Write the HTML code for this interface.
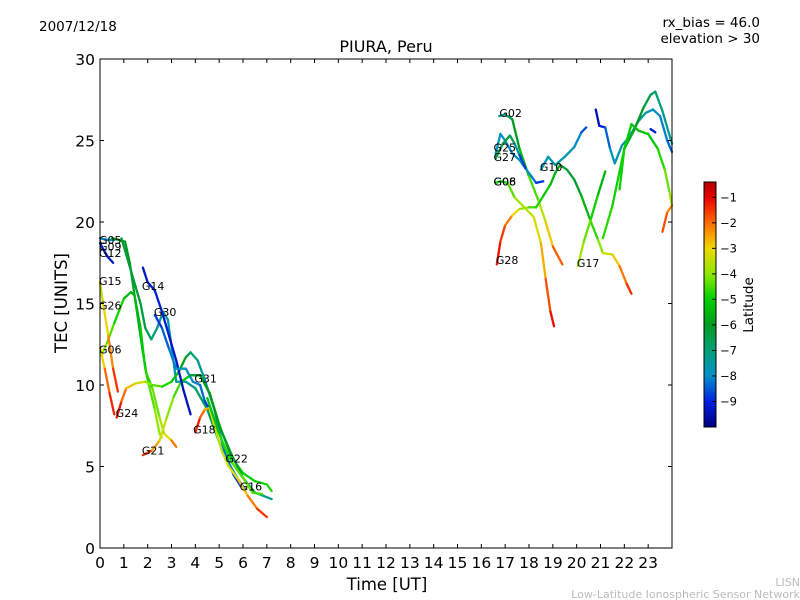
<!DOCTYPE html>
<html><head><meta charset="utf-8"><style>
body{margin:0;background:#fff;}
svg{display:block;font-family:"DejaVu Sans","Liberation Sans",sans-serif;}
</style></head><body>
<svg id="chart" width="800" height="600">
<defs>
<linearGradient id="jet" x1="0" y1="1" x2="0" y2="0"></linearGradient>
</defs>
<rect x="0" y="0" width="800" height="600" fill="#fff"/>
<text x="39" y="31" font-size="13.5">2007/12/18</text>
<text x="760" y="27" font-size="13.5" text-anchor="end">rx_bias = 46.0</text>
<text x="760" y="43" font-size="13.5" text-anchor="end">elevation &gt; 30</text>
<text x="386" y="52" font-size="16" text-anchor="middle">PIURA, Peru</text>
<text x="387" y="590" font-size="16.5" text-anchor="middle">Time [UT]</text>
<text transform="translate(67,303) rotate(-90)" font-size="16.5" text-anchor="middle">TEC [UNITS]</text>
<text x="800" y="586" font-size="11" fill="#bbb" text-anchor="end">LISN</text>
<text x="800" y="598" font-size="11" fill="#bbb" text-anchor="end">Low-Latitude Ionospheric Sensor Network</text>
<g id="marks"></g>
<g id="axes"></g>
<rect x="100" y="59" width="572" height="489" fill="none" stroke="#000" stroke-width="1"/>
<g>
<rect x="704" y="182" width="12" height="245" fill="url(#jet)" stroke="#000" stroke-width="1"/>
<g id="cbticks"></g>
<text transform="translate(753,305) rotate(-90)" font-size="13.5" text-anchor="middle">Latitude</text>
</g>
</svg>
<script>
const xTicks=[0,1,2,3,4,5,6,7,8,9,10,11,12,13,14,15,16,17,18,19,20,21,22,23];
const yTicks=[0,5,10,15,20,25,30];
const cbTicks=[-1,-2,-3,-4,-5,-6,-7,-8,-9];
const satNames=["G12","G09","G05","G30b","G26","G15","G06","G24","G21","G14","G30","G31","G18","G22","G02","G25","G27","G08","G28","G10","G17","R8","R9","R10","R11","R12"];
const tracks=[
[[0,18.7,-9],[0.3,17.9,-9.2],[0.55,17.5,-9.3]],
[[0,19.0,-8],[0.3,18.9,-8.2],[0.6,18.9,-7.5]],
[[0.5,19.0,-6],[1.05,18.8,-6],[1.25,17.5,-6],[1.5,15,-5.8],[1.8,12,-5.5],[1.95,10.7,-5],[2.2,9.8,-4.5],[2.5,8,-4],[2.7,7,-3.5],[3.0,6.6,-2.8],[3.2,6.2,-1.5]],
[[0.9,19.0,-6.3],[1.3,17,-6.3],[1.7,15,-6.3],[1.9,13.5,-6.5],[2.15,12.8,-6.8],[2.4,13.5,-7.2],[2.65,14.5,-7.5],[2.85,14,-7.6],[3.05,11.8,-7.8],[3.2,10.2,-7.6],[3.6,10.2,-7.5],[4.0,9.8,-7],[4.5,8.5,-6.5],[5.0,6.5,-7],[5.4,5.2,-7.5],[5.8,4.2,-8],[6.1,3.6,-8.5]],
[[0.05,11.8,-3.8],[0.3,12.6,-4.2],[0.6,13.8,-4.6],[1.0,15.3,-5.2],[1.3,15.7,-5.5],[1.45,15.5,-5.6],[1.7,13.5,-5.3],[1.9,11,-4.9],[2.05,10,-4.6],[2.3,8.5,-4.2],[2.5,7,-3.8],[2.6,6.8,-3.6]],
[[0,16.3,-3.6],[0.15,14.8,-3.2],[0.35,13,-2.7],[0.55,11,-1.8],[0.75,9.6,-1.2]],
[[0,12.3,-3.3],[0.2,11,-2.5],[0.4,9.5,-1.5],[0.6,8.2,-1.2]],
[[0.7,8.0,-1],[0.9,9,-1.5],[1.1,9.8,-2.5],[1.5,10.1,-3],[1.9,10.2,-3.7],[2.2,10.0,-4.2],[2.6,9.9,-4.6],[3.0,10.2,-5],[3.3,10.8,-5.5],[3.6,11.7,-6.2],[3.8,12.0,-6.7],[4.1,11.5,-7.2],[4.4,10.3,-7.5],[4.8,8.5,-7.8],[5.2,6,-8],[5.6,4.5,-8.5],[5.9,3.8,-9]],
[[1.8,5.7,-1],[2.2,6.0,-2],[2.5,6.6,-3],[2.8,8,-3.8],[3.1,9.3,-4.3],[3.4,10.2,-4.8],[3.8,10.6,-5.4],[4.2,10.6,-5.8],[4.6,9.5,-5.8],[5.0,7.6,-5.5],[5.5,5.6,-5.2],[6.0,4.6,-5.0],[6.5,4.1,-5],[7.0,3.9,-4.8],[7.2,3.5,-4.8]],
[[1.8,17.2,-9.3],[2.0,16.3,-9.2],[2.3,15.8,-9],[2.6,14.5,-9],[2.9,13,-9.2],[3.2,11.5,-9.3],[3.5,9.7,-9.3],[3.8,8.2,-9.5]],
[[2.3,14.3,-9],[2.6,13.5,-8.6],[2.9,12.2,-8.3],[3.2,11,-8],[3.6,11,-7.8],[3.9,10.2,-8],[4.2,10.0,-8.2],[4.4,9,-8.5],[4.6,8.5,-9]],
[[3.8,10.6,-6.5],[4.2,10.6,-6],[4.6,9.5,-6],[5.0,7.5,-6],[5.5,5.8,-6.2],[6.0,4.3,-6.5],[6.5,3.4,-7],[7.2,3.0,-7.5]],
[[4.0,7.1,-1],[4.2,8,-1.5],[4.4,8.5,-2.3],[4.6,8.6,-3],[4.8,7.5,-3.4],[5.1,6,-3.6],[5.4,5.0,-3.4],[5.8,4.2,-3],[6.2,3.2,-2.5],[6.6,2.4,-1.8],[7.0,1.9,-1.2]],
[[4.5,9.2,-5.5],[5.0,7,-5],[5.5,5.3,-4.5],[6.0,4.3,-4.4],[6.4,3.4,-4.2],[6.8,3.3,-5]],
[[16.75,26.5,-7.8],[17.0,26.6,-7],[17.3,26.3,-6.2],[17.6,24.5,-5.8],[18.0,22.8,-5],[18.4,21.3,-4],[18.7,20,-3.2],[19.0,18.5,-2.5],[19.4,17.4,-1.2]],
[[16.6,24.2,-7.8],[16.8,25.4,-8],[17.0,25.0,-8],[17.3,24.2,-8],[17.6,23.8,-7.8],[17.9,23.2,-7.8],[18.1,22.8,-8],[18.3,22.4,-8.5],[18.6,22.5,-9.2]],
[[16.6,23.9,-6.5],[16.9,24.8,-6.3],[17.2,25.3,-6.3],[17.4,24.8,-7],[17.6,24.1,-8.3],[17.85,23.3,-9.2]],
[[16.6,22.4,-5],[16.8,22.5,-5.2],[17.1,22.4,-4.8],[17.4,21.5,-4],[17.8,20.9,-3.7],[18.2,20.3,-3.5],[18.5,18.7,-3],[18.7,16.5,-2.2],[18.9,14.5,-1.3],[19.05,13.6,-1]],
[[16.65,17.4,-1],[16.8,18.8,-1.3],[17.0,19.8,-1.8],[17.3,20.4,-2.5],[17.6,20.8,-3.5],[18.0,20.9,-4.2],[18.3,20.9,-4.7],[18.6,21.6,-5],[18.9,22.3,-5.3],[19.1,23.0,-5.6],[19.3,23.5,-6],[19.6,23.2,-6.3],[19.9,22.6,-6.3],[20.2,21.6,-6],[20.6,20,-5],[20.9,18.9,-4.4],[21.1,18.1,-3.7],[21.5,18,-3.2],[21.8,17.3,-2.5],[22.1,16.2,-1.7],[22.3,15.6,-1.2]],
[[18.5,23.2,-7.8],[18.8,24.0,-7.7],[19.1,23.5,-7.5],[19.5,24.0,-7.6],[19.9,24.6,-7.8],[20.2,25.5,-8.3],[20.4,25.8,-8.8]],
[[20.05,17.3,-3.6],[20.3,18.8,-4],[20.6,20.2,-4.6],[20.9,21.7,-5.2],[21.2,23.1,-5.8]],
[[20.8,26.9,-9.5],[20.95,25.9,-9.3],[21.2,25.8,-8.8],[21.4,24.5,-8],[21.6,23.6,-7.7],[21.9,24.7,-7.5],[22.2,25.2,-7.3],[22.6,26.2,-7.5],[22.9,26.7,-7.6],[23.2,26.9,-7.8],[23.5,26.5,-8],[23.8,25.0,-8.3],[24,24.3,-8.5]],
[[21.8,22,-4.6],[22.0,24.5,-5.3],[22.4,25.6,-5.8],[22.8,27.0,-6.2],[23.1,27.8,-6.5],[23.3,28,-6.8],[23.6,26.8,-7.2],[24,24.8,-7.5]],
[[21.1,19,-4.6],[21.5,21,-4.8],[22.0,24.5,-5],[22.3,26.0,-5.2],[22.6,25.6,-5.2],[23,25.4,-5.3],[23.4,24.5,-5.0],[23.7,23.2,-4.5],[23.9,21.8,-4],[24,21,-3.5]],
[[23.1,25.7,-9.2],[23.3,25.5,-9.3]],
[[23.6,19.4,-1.5],[23.8,20.6,-2],[24,21,-2.5]]
];
const labelNames=["G05","G09","G12","G15","G26","G06","G14","G30","G31","G24","G18","G21","G22","G16","G02","G25","G27","G06","G08","G10","G28","G17"];
const labelTimes=[0,0,0,0,0,0,1.8,2.3,4.0,0.7,3.95,1.8,5.3,5.9,16.8,16.55,16.55,16.55,16.55,18.5,16.65,20.05];
const labelTecs=[18.7,18.3,17.9,16.2,14.7,12.0,15.9,14.3,10.2,8.1,7.1,5.8,5.3,3.6,26.5,24.4,23.8,22.3,22.3,23.2,17.5,17.3];

const NS="http://www.w3.org/2000/svg";
const X0=100,X1=672,Y0=548,Y1=59;
const xs=t=>X0+t*(X1-X0)/24;
const ys=v=>Y0-v*(Y0-Y1)/30;
const cbY=l=>427-(l+10)*(245/9.6);
const cmap=[[-10,[0,0,128]],[-9,[0,32,224]],[-8,[0,144,200]],[-7,[0,160,120]],[-6,[0,154,32]],[-5,[0,208,0]],[-4,[144,232,0]],[-3,[240,216,0]],[-2,[255,106,0]],[-1,[232,0,0]],[-0.4,[176,0,0]]];
function jet(l){
  if(l<=cmap[0][0]) return `rgb(${cmap[0][1].join(',')})`;
  for(let i=0;i<cmap.length-1;i++){
    const a=cmap[i],b=cmap[i+1];
    if(l<=b[0]){const f=(l-a[0])/(b[0]-a[0]);const c=a[1].map((v,k)=>Math.round(v+(b[1][k]-v)*f));return `rgb(${c.join(',')})`;}
  }
  return `rgb(${cmap[cmap.length-1][1].join(',')})`;
}
function mk(tag,attrs,parent){const e=document.createElementNS(NS,tag);for(const k in attrs)e.setAttribute(k,attrs[k]);parent.appendChild(e);return e;}
const grad=document.getElementById('jet');
cmap.forEach(s=>{mk('stop',{offset:(s[0]+10)/9.6,'stop-color':`rgb(${s[1].join(',')})`},grad);});
const marks=document.getElementById('marks');
tracks.forEach((tr,i)=>{
  const g=mk('g',{},marks);
  
  
  for(let j=0;j<tr.length-1;j++){
    const a=tr[j],b=tr[j+1];
    const s=mk('line',{x1:xs(a[0]),y1:ys(a[1]),x2:xs(b[0]),y2:ys(b[1]),stroke:jet((a[2]+b[2])/2),'stroke-width':2.3,'stroke-linecap':'round'},g);
    
    
  }
});
labelNames.forEach((n,i)=>{
  const t=mk('text',{x:xs(labelTimes[i])-1,y:ys(labelTecs[i])+1,'font-size':11},marks);
  t.textContent=n;
  
  
});
const axes=document.getElementById('axes');
xTicks.forEach(v=>{
  const x=xs(v);
  const l1=mk('line',{x1:x,y1:Y0,x2:x,y2:Y0-4,stroke:'#000'},axes);
  
  
  const l2=mk('line',{x1:x,y1:Y1,x2:x,y2:Y1+4,stroke:'#000'},axes);
  
  
  const t=mk('text',{x:x,y:568,'font-size':15.5,'text-anchor':'middle'},axes);
  t.textContent=v;
  
  
});
yTicks.forEach(v=>{
  const y=ys(v);
  const l1=mk('line',{x1:X0,y1:y,x2:X0+4,y2:y,stroke:'#000'},axes);
  
  
  const l2=mk('line',{x1:X1,y1:y,x2:X1-4,y2:y,stroke:'#000'},axes);
  
  
  const t=mk('text',{x:95,y:y+6,'font-size':15.5,'text-anchor':'end'},axes);
  t.textContent=v;
  
  
});
const cbt=document.getElementById('cbticks');
cbTicks.forEach(v=>{
  const y=cbY(v);
  const l=mk('line',{x1:712,y1:y,x2:716,y2:y,stroke:'#000'},cbt);
  
  
  const t=mk('text',{x:720,y:y+4,'font-size':11.5},cbt);
  t.textContent='\u2212'+(-v);
  
  
});
</script>
</body></html>
